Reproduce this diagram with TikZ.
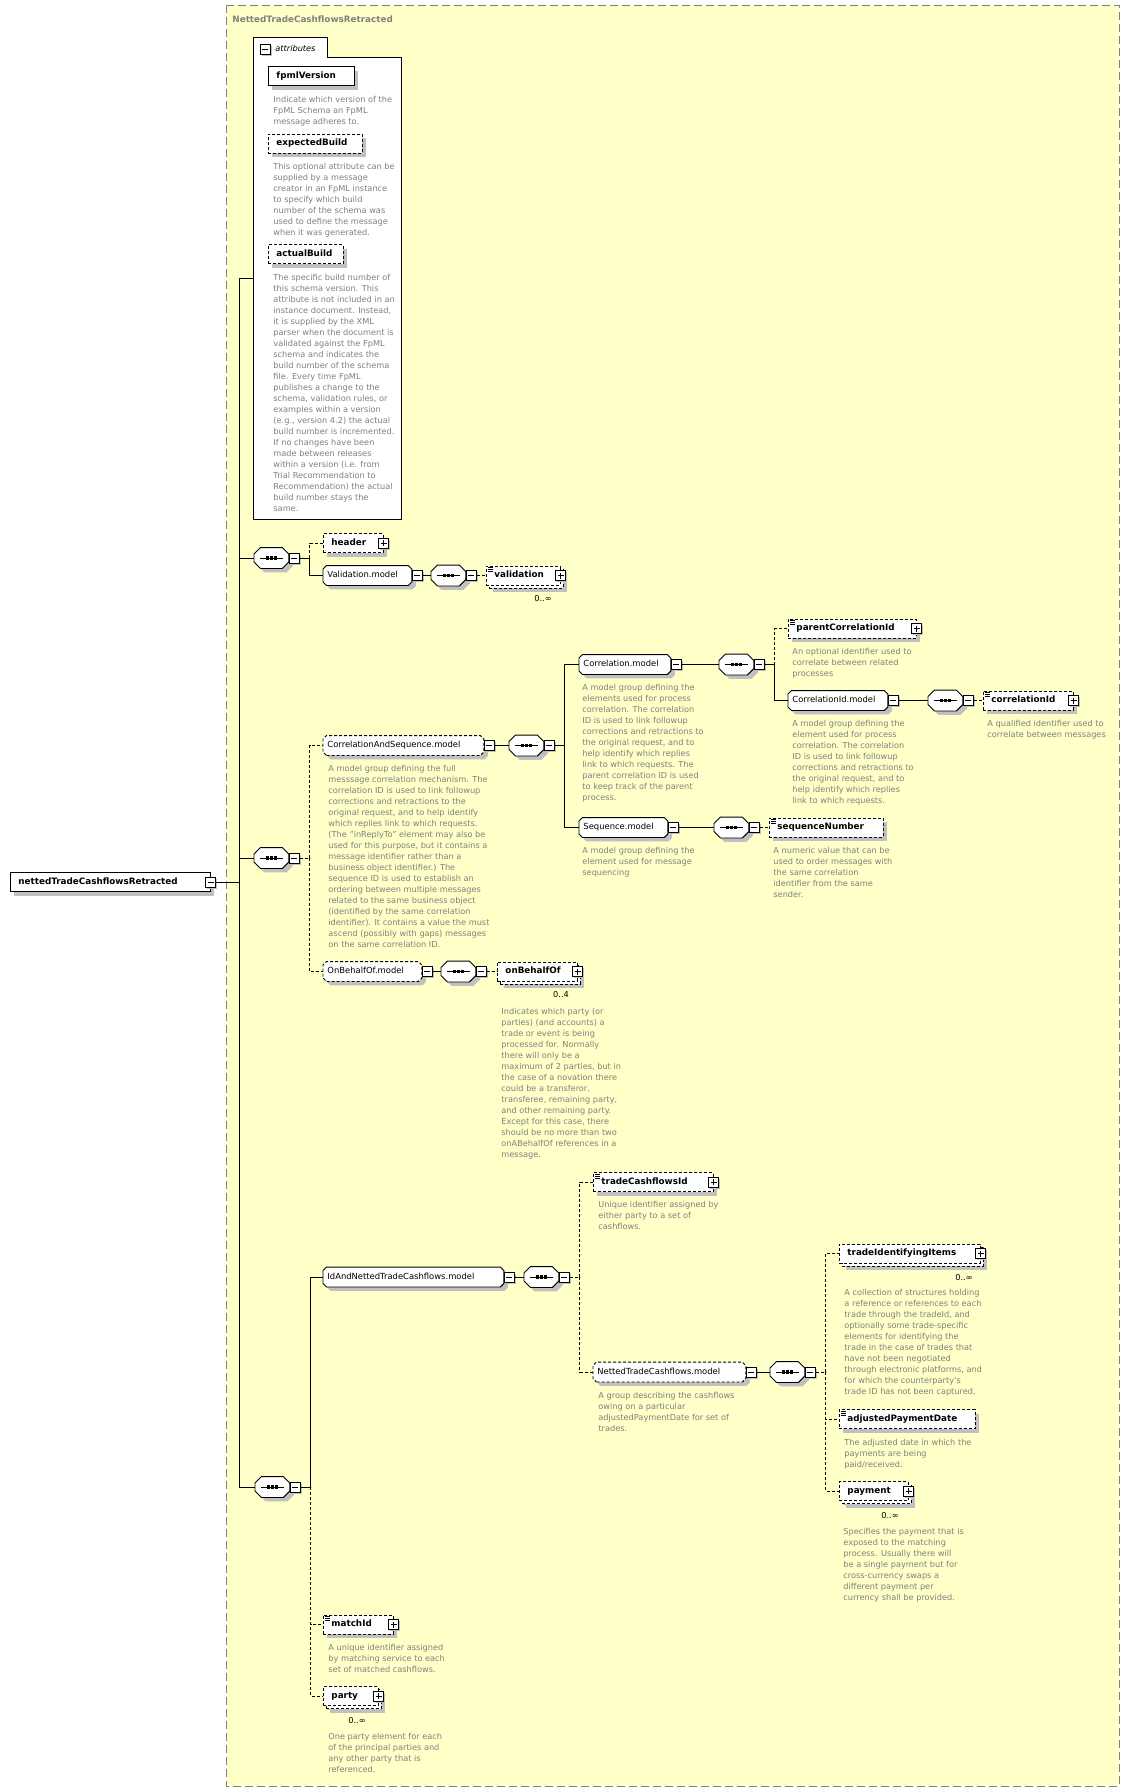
\documentclass[tikz,border=0pt]{standalone}
\usepackage{fontspec}
\setmainfont{DejaVu Sans}
\usetikzlibrary{shadows}

\definecolor{paper}{RGB}{255,255,200}
\definecolor{shadowgray}{RGB}{192,192,192}
\definecolor{notegray}{RGB}{128,128,128}

\newcommand\namefont{\bfseries\fontsize{8.8}{10}\selectfont}
\newcommand\grpfont{\fontsize{8.4}{10}\selectfont}
\newcommand\notefont{\fontsize{8.2}{11}\selectfont}

% box with cut corners, for model groups and compositors
\makeatletter
\pgfkeys{/pgf/octbox cut/.initial=3pt}
\pgfdeclareshape{octbox}{
  \inheritsavedanchors[from=rectangle]
  \inheritanchorborder[from=rectangle]
  \inheritanchor[from=rectangle]{center}
  \inheritanchor[from=rectangle]{north}
  \inheritanchor[from=rectangle]{south}
  \inheritanchor[from=rectangle]{west}
  \inheritanchor[from=rectangle]{east}
  \inheritanchor[from=rectangle]{north west}
  \inheritanchor[from=rectangle]{north east}
  \inheritanchor[from=rectangle]{south west}
  \inheritanchor[from=rectangle]{south east}
  \inheritanchor[from=rectangle]{mid}
  \inheritanchor[from=rectangle]{base}
  \inheritanchor[from=rectangle]{text}
  \backgroundpath{
    \southwest \edef\octL{\the\pgf@x}\edef\octB{\the\pgf@y}
    \northeast \edef\octR{\the\pgf@x}\edef\octT{\the\pgf@y}
    \pgfmathsetlengthmacro\octC{\pgfkeysvalueof{/pgf/octbox cut}}
    \pgfmathsetlengthmacro\octLc{\octL+\octC}
    \pgfmathsetlengthmacro\octRc{\octR-\octC}
    \pgfmathsetlengthmacro\octBc{\octB+\octC}
    \pgfmathsetlengthmacro\octTc{\octT-\octC}
    \pgfpathmoveto{\pgfpoint{\octLc}{\octB}}
    \pgfpathlineto{\pgfpoint{\octRc}{\octB}}
    \pgfpathlineto{\pgfpoint{\octR}{\octBc}}
    \pgfpathlineto{\pgfpoint{\octR}{\octTc}}
    \pgfpathlineto{\pgfpoint{\octRc}{\octT}}
    \pgfpathlineto{\pgfpoint{\octLc}{\octT}}
    \pgfpathlineto{\pgfpoint{\octL}{\octTc}}
    \pgfpathlineto{\pgfpoint{\octL}{\octBc}}
    \pgfpathclose
  }
}
\makeatother

\tikzset{
  opt/.style={dash pattern=on 3pt off 2pt},
  btn/.style={draw, solid, fill=white, minimum size=10pt, inner sep=0pt,
    general shadow={fill=shadowgray, shadow xshift=1.5pt, shadow yshift=-1.5pt}},
  minusbtn/.style={btn, path picture={
    \draw[solid] ([xshift=2pt]path picture bounding box.west) -- ([xshift=-2pt]path picture bounding box.east);}},
  plusbtn/.style={btn, path picture={
    \draw[solid] ([xshift=2pt]path picture bounding box.west) -- ([xshift=-2pt]path picture bounding box.east);
    \draw[solid] ([yshift=-2pt]path picture bounding box.north) -- ([yshift=2pt]path picture bounding box.south);}},
  elem/.style={draw, fill=white, anchor=west, minimum height=19pt, inner xsep=8pt, inner ysep=0pt,
    text width=#1, align=left, text height=6.5pt, text depth=2pt, font=\namefont,
    general shadow={fill=shadowgray, shadow xshift=4pt, shadow yshift=-4pt}},
  many/.style={general shadow={fill=shadowgray, shadow xshift=7pt, shadow yshift=-7pt},
    general shadow={fill=white, draw=black, opt, shadow xshift=3pt, shadow yshift=-3pt}},
  txt/.style={path picture={
    \foreach \k in {1.5,3.5,5.5}
      \draw[solid, black, line width=0.6pt] ([xshift=2pt, yshift=-\k pt]path picture bounding box.north west) -- ++(5pt,0);}},
  grp/.style={octbox, octbox cut=3.5pt, draw, fill=white, anchor=west, minimum height=19pt,
    inner xsep=4pt, inner ysep=0pt, text width=#1, align=left, text height=6pt, text depth=1.8pt, font=\grpfont,
    general shadow={fill=shadowgray, shadow xshift=4pt, shadow yshift=-4pt}},
  seqbox/.style={octbox, octbox cut=6.5pt, draw, solid, fill=white, anchor=west,
    minimum width=34pt, minimum height=20pt, inner sep=0pt,
    general shadow={fill=shadowgray, shadow xshift=4pt, shadow yshift=-4pt},
    path picture={
      \draw[black, line width=1pt] ([xshift=6pt]path picture bounding box.west) -- ([xshift=-6pt]path picture bounding box.east);
      \foreach \dx in {-3.8,0,3.8}
        \fill[black] ([xshift=\dx pt]path picture bounding box.center) ++(-1.6pt,-1.6pt) rectangle ++(3.2pt,3.2pt);}},
  note/.style={anchor=north west, inner sep=0pt, align=left, font=\notefont, text=notegray},
  mult/.style={inner sep=0pt, font=\notefont}
}

\begin{document}
\begin{tikzpicture}[x=1pt, y=-1pt, line width=0.9pt]
\useasboundingbox[fill=white] (0,0) rectangle (1129,1791);

% frame
\draw[notegray, dash pattern=on 8pt off 4pt, fill=paper] (226,5) rectangle (1119,1786);
\node[anchor=west, inner sep=0pt, font=\namefont, text=notegray] (title) at (232,19) {NettedTradeCashflowsRetracted};

% root element
\node[elem=184pt] (root) at (10,882) {nettedTradeCashflowsRetracted};
\node[minusbtn] (rootb) at (root.east) {};

% attributes
\node[minimum width=147pt, minimum height=481pt, inner sep=0pt] (attrs) at (327.5,278.5) {};
\node[anchor=north west, minimum width=73pt, minimum height=19pt, inner sep=0pt] (atab) at (attrs.north west) {};
\draw[fill=white] (atab.south east) -- (atab.south east -| attrs.east) -- (attrs.south east)
  -- (attrs.south west) -- (atab.north west) -- (atab.north east) -- cycle;
\node[minusbtn] (atabb) at (265,49.5) {};
\node[anchor=west, inner sep=0pt, font=\notefont\itshape] (atabtxt) at (275,48) {attributes};

\node[elem=70pt] (fpml) at (268,76) {fpmlVersion};
\node[note] (fpmlnote) at (273,95.5) {Indicate which version of the\\FpML Schema an FpML\\message adheres to.};
\node[elem=78pt, opt] (expb) at (268,143.5) {expectedBuild};
\node[note] (expbnote) at (273,162.5) {This optional attribute can be\\supplied by a message\\creator in an FpML instance\\to specify which build\\number of the schema was\\used to define the message\\when it was generated.};
\node[elem=59pt, opt] (actb) at (268,254) {actualBuild};
\node[note] (actbnote) at (273,273.5) {The specific build number of\\this schema version. This\\attribute is not included in an\\instance document. Instead,\\it is supplied by the XML\\parser when the document is\\validated against the FpML\\schema and indicates the\\build number of the schema\\file. Every time FpML\\publishes a change to the\\schema, validation rules, or\\examples within a version\\(e.g., version 4.2) the actual\\build number is incremented.\\If no changes have been\\made between releases\\within a version (i.e. from\\Trial Recommendation to\\Recommendation) the actual\\build number stays the\\same.};

% first sequence
\node[seqbox] (seqA) at (254,558) {};
\node[minusbtn, anchor=west] (seqAb) at (seqA.east) {};
\node[elem=44pt, opt] (header) at (323,543) {header};
\node[plusbtn] (headerb) at (header.east) {};
\node[grp=80pt] (valmodel) at (323,575.5) {Validation.model};
\node[minusbtn, anchor=west] (valmodelb) at (valmodel.east) {};
\node[seqbox] (seqA2) at (431,575.5) {};
\node[minusbtn, anchor=west] (seqA2b) at (seqA2.east) {};
\node[elem=58pt, opt, many, txt] (valid) at (486,575.5) {validation};
\node[plusbtn] (validb) at (valid.east) {};
\node[mult] (validm) at (543,599) {0..∞};

% second sequence
\node[seqbox] (seqB) at (254,858) {};
\node[minusbtn, anchor=west] (seqBb) at (seqB.east) {};
\node[grp=152pt, opt] (csmodel) at (323,745.5) {CorrelationAndSequence.model};
\node[minusbtn, anchor=west] (csmodelb) at (csmodel.east) {};
\node[note] (csnote) at (328,764.5) {A model group defining the full\\messsage correlation mechanism. The\\correlation ID is used to link followup\\corrections and retractions to the\\original request, and to help identify\\which replies link to which requests.\\(The "inReplyTo" element may also be\\used for this purpose, but it contains a\\message identifier rather than a\\business object identifier.) The\\sequence ID is used to establish an\\ordering between multiple messages\\related to the same business object\\(identified by the same correlation\\identifier). It contains a value the must\\ascend (possibly with gaps) messages\\on the same correlation ID.};
\node[seqbox] (seqB2) at (509,745.5) {};
\node[minusbtn, anchor=west] (seqB2b) at (seqB2.east) {};

\node[grp=83pt] (corrmodel) at (579,664.5) {Correlation.model};
\node[minusbtn, anchor=west] (corrmodelb) at (corrmodel.east) {};
\node[note] (corrnote) at (582,683.5) {A model group defining the\\elements used for process\\correlation. The correlation\\ID is used to link followup\\corrections and retractions to\\the original request, and to\\help identify which replies\\link to which requests. The\\parent correlation ID is used\\to keep track of the parent\\process.};
\node[seqbox] (seqB3) at (719,664.5) {};
\node[minusbtn, anchor=west] (seqB3b) at (seqB3.east) {};
\node[elem=112pt, opt, txt] (parcorr) at (788,628.5) {parentCorrelationId};
\node[plusbtn] (parcorrb) at (parcorr.east) {};
\node[note] (parcorrnote) at (792,647.5) {An optional identifier used to\\correlate between related\\processes};
\node[grp=91pt] (cidmodel) at (788,700.5) {CorrelationId.model};
\node[minusbtn, anchor=west] (cidmodelb) at (cidmodel.east) {};
\node[note] (cidnote) at (792,719.5) {A model group defining the\\element used for process\\correlation. The correlation\\ID is used to link followup\\corrections and retractions to\\the original request, and to\\help identify which replies\\link to which requests.};
\node[seqbox] (seqB4) at (928,700.5) {};
\node[minusbtn, anchor=west] (seqB4b) at (seqB4.east) {};
\node[elem=74pt, opt, txt] (corrid) at (983,700.5) {correlationId};
\node[plusbtn] (corridb) at (corrid.east) {};
\node[note] (corridnote) at (987,719.5) {A qualified identifier used to\\correlate between messages};

\node[grp=80pt] (seqmodel) at (579,827.5) {Sequence.model};
\node[minusbtn, anchor=west] (seqmodelb) at (seqmodel.east) {};
\node[note] (seqnote) at (582,846.5) {A model group defining the\\element used for message\\sequencing};
\node[seqbox] (seqB5) at (714,827.5) {};
\node[minusbtn, anchor=west] (seqB5b) at (seqB5.east) {};
\node[elem=98pt, opt, txt] (seqnum) at (769,827.5) {sequenceNumber};
\node[note] (seqnumnote) at (773,846.5) {A numeric value that can be\\used to order messages with\\the same correlation\\identifier from the same\\sender.};

\node[grp=90pt, opt] (obomodel) at (323,971.5) {OnBehalfOf.model};
\node[minusbtn, anchor=west] (obomodelb) at (obomodel.east) {};
\node[seqbox] (seqB6) at (441,971.5) {};
\node[minusbtn, anchor=west] (seqB6b) at (seqB6.east) {};
\node[elem=64pt, opt, many] (obo) at (497,971.5) {onBehalfOf};
\node[plusbtn] (obob) at (obo.east) {};
\node[mult] (obom) at (561,995) {0..4};
\node[note] (obonote) at (501,1007.5) {Indicates which party (or\\parties) (and accounts) a\\trade or event is being\\processed for. Normally\\there will only be a\\maximum of 2 parties, but in\\the case of a novation there\\could be a transferor,\\transferee, remaining party,\\and other remaining party.\\Except for this case, there\\should be no more than two\\onABehalfOf references in a\\message.};

% third sequence
\node[seqbox] (seqC) at (255,1487) {};
\node[minusbtn, anchor=west] (seqCb) at (seqC.east) {};
\node[grp=172pt] (idmodel) at (323,1277) {IdAndNettedTradeCashflows.model};
\node[minusbtn, anchor=west] (idmodelb) at (idmodel.east) {};
\node[seqbox] (seqC2) at (524,1277) {};
\node[minusbtn, anchor=west] (seqC2b) at (seqC2.east) {};
\node[elem=104pt, opt, txt] (tcfid) at (593,1182) {tradeCashflowsId};
\node[plusbtn] (tcfidb) at (tcfid.east) {};
\node[note] (tcfidnote) at (598,1200.5) {Unique identifier assigned by\\either party to a set of\\cashflows.};
\node[grp=144pt, opt] (ntcmodel) at (593,1372) {NettedTradeCashflows.model};
\node[minusbtn, anchor=west] (ntcmodelb) at (ntcmodel.east) {};
\node[note] (ntcnote) at (598,1391.5) {A group describing the cashflows\\owing on a particular\\adjustedPaymentDate for set of\\trades.};
\node[seqbox] (seqC3) at (770,1372) {};
\node[minusbtn, anchor=west] (seqC3b) at (seqC3.east) {};
\node[elem=125pt, opt, many] (tiditems) at (839,1253.5) {tradeIdentifyingItems};
\node[plusbtn] (tiditemsb) at (tiditems.east) {};
\node[mult] (tiditemsm) at (964,1277) {0..∞};
\node[note] (tidnote) at (844,1288.5) {A collection of structures holding\\a reference or references to each\\trade through the tradeId, and\\optionally some trade-specific\\elements for identifying the\\trade in the case of trades that\\have not been negotiated\\through electronic platforms, and\\for which the counterparty's\\trade ID has not been captured.};
\node[elem=120pt, opt, txt] (adjpd) at (839,1419) {adjustedPaymentDate};
\node[note] (adjpdnote) at (844,1438.5) {The adjusted date in which the\\payments are being\\paid/received.};
\node[elem=53pt, opt, many] (payment) at (839,1491) {payment};
\node[plusbtn] (paymentb) at (payment.east) {};
\node[mult] (paymentm) at (890,1515) {0..∞};
\node[note] (paymentnote) at (843,1527.5) {Specifies the payment that is\\exposed to the matching\\process. Usually there will\\be a single payment but for\\cross-currency swaps a\\different payment per\\currency shall be provided.};
\node[elem=54pt, opt, txt] (matchid) at (323,1624.5) {matchId};
\node[plusbtn] (matchidb) at (matchid.east) {};
\node[note] (matchidnote) at (328,1643.5) {A unique identifier assigned\\by matching service to each\\set of matched cashflows.};
\node[elem=39pt, opt, many] (party) at (323,1696) {party};
\node[plusbtn] (partyb) at (party.east) {};
\node[mult] (partym) at (357,1720) {0..∞};
\node[note] (partynote) at (328,1732.5) {One party element for each\\of the principal parties and\\any other party that is\\referenced.};

% connectors
\draw (rootb.east) -- ++(23,0) |- (attrs.west);
\draw (rootb.east) -- ++(23,0) |- (seqA.west);
\draw (rootb.east) -- ++(23,0) |- (seqB.west);
\draw (rootb.east) -- ++(23,0) |- (seqC.west);

\draw[opt] (seqAb.east) -- ++(10,0) |- (header.west);
\draw (seqAb.east) -- ++(10,0) |- (valmodel.west);
\draw (valmodelb) -- (seqA2);
\draw[opt] (seqA2b) -- (valid);

\draw[opt] (seqBb.east) -- ++(10,0) |- (csmodel.west);
\draw[opt] (seqBb.east) -- ++(10,0) |- (obomodel.west);
\draw (csmodelb) -- (seqB2);
\draw (seqB2b.east) -- ++(10,0) |- (corrmodel.west);
\draw (seqB2b.east) -- ++(10,0) |- (seqmodel.west);
\draw (corrmodelb) -- (seqB3);
\draw[opt] (seqB3b.east) -- ++(10,0) |- (parcorr.west);
\draw (seqB3b.east) -- ++(10,0) |- (cidmodel.west);
\draw (cidmodelb) -- (seqB4);
\draw[opt] (seqB4b) -- (corrid);
\draw (seqmodelb) -- (seqB5);
\draw[opt] (seqB5b) -- (seqnum);
\draw (obomodelb) -- (seqB6);
\draw[opt] (seqB6b) -- (obo);

\draw (seqCb.east) -- ++(10,0) |- (idmodel.west);
\draw[opt] (seqCb.east) -- ++(10,0) |- (matchid.west);
\draw[opt] (seqCb.east) -- ++(10,0) |- (party.west);
\draw (idmodelb) -- (seqC2);
\draw[opt] (seqC2b.east) -- ++(10,0) |- (tcfid.west);
\draw[opt] (seqC2b.east) -- ++(10,0) |- (ntcmodel.west);
\draw (ntcmodelb) -- (seqC3);
\draw[opt] (seqC3b.east) -- ++(10,0) |- (tiditems.west);
\draw[opt] (seqC3b.east) -- ++(10,0) |- (adjpd.west);
\draw[opt] (seqC3b.east) -- ++(10,0) |- (payment.west);
\end{tikzpicture}
\end{document}
